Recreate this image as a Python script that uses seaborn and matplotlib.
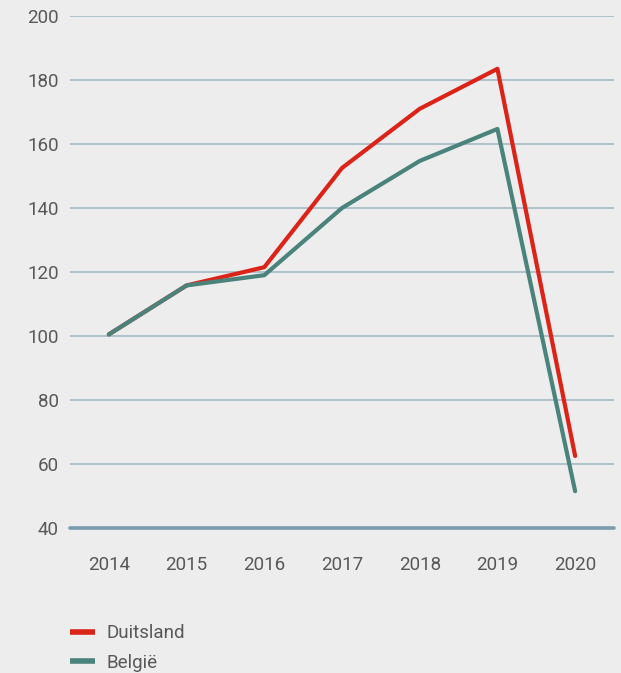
import matplotlib
matplotlib.use("Agg")
import matplotlib.pyplot as plt
from matplotlib.lines import Line2D
import pandas as pd
import seaborn as sns

# data
jaren = ["2014", "2015", "2016", "2017", "2018", "2019", "2020"]
duitsland = [100.5, 115.8, 121.5, 152.5, 171, 183.5, 62.5]
belgie = [100.5, 115.8, 119, 140, 154.7, 164.7, 51.5]

bg = "#ededed"
rood = "#dc2318"
groen = "#4a837b"
tekst = "#585858"

df = pd.DataFrame({
    "jaar": jaren * 2,
    "waarde": duitsland + belgie,
    "land": ["Duitsland"] * len(jaren) + ["België"] * len(jaren),
})

sns.set_style("white")
plt.rcParams["font.family"] = ["Roboto", "DejaVu Sans"]

fig = plt.figure(figsize=(6.21, 6.73), dpi=100, facecolor=bg)
ax = fig.add_axes([70 / 621, 1 - 528 / 673, 544 / 621, 512 / 673])
ax.set_facecolor(bg)

sns.lineplot(data=df, x="jaar", y="waarde", hue="land",
             palette={"Duitsland": rood, "België": groen},
             linewidth=3, ax=ax, legend=False, sort=False, zorder=3)

ax.set_xlim(-0.5, len(jaren) - 0.5)
ax.set_ylim(40, 200)
ax.set_yticks(range(40, 201, 20))
ax.set_xlabel("")
ax.set_ylabel("")

for y in range(60, 201, 20):
    ax.axhline(y, color="#a9bdc8", linewidth=1.3, zorder=1)
ax.axhline(40, color="#7a9cad", linewidth=2.6, zorder=2, clip_on=False)

for s in ax.spines.values():
    s.set_visible(False)
ax.tick_params(axis="both", length=0, labelsize=13.5, labelcolor=tekst)
ax.tick_params(axis="x", pad=20.5)
ax.tick_params(axis="y", pad=8)

handles = [Line2D([], [], color=rood, linewidth=4, solid_capstyle="butt"),
           Line2D([], [], color=groen, linewidth=4, solid_capstyle="butt")]
leg = fig.legend(handles, ["Duitsland", "België"], loc="upper left",
                 bbox_to_anchor=(70 / 621, 1 - 624.5 / 673), frameon=False,
                 borderpad=0, borderaxespad=0,
                 handlelength=1.35, handletextpad=0.62, labelspacing=0.6,
                 fontsize=13.5)
for t in leg.get_texts():
    t.set_color(tekst)

fig.savefig("out.png", dpi=100, facecolor=bg)
